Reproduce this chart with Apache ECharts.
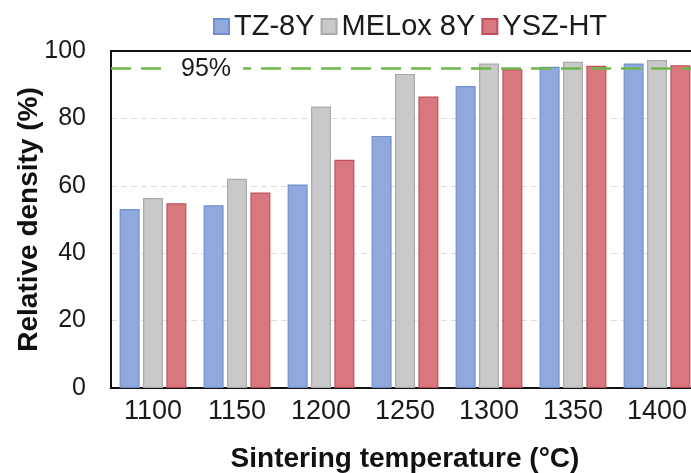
<!DOCTYPE html>
<html>
<head>
<meta charset="utf-8">
<script src="https://cdn.jsdelivr.net/npm/echarts@6/dist/echarts.min.js"></script>
<style>
  html, body { margin: 0; padding: 0; background: #fff; }
  #chart { width: 691px; height: 473px; }
</style>
</head>
<body>
<div id="chart"></div>
<script>
// Sintering temperatures (°C)
const temperatures = ['1100', '1150', '1200', '1250', '1300', '1350', '1400'];
// Relative density (%) per powder
const tz8y = [53.1, 54.2, 60.4, 74.8, 89.6, 95.3, 96.3];
const melox8y = [56.4, 62.1, 83.5, 93.2, 96.3, 96.8, 97.3];
const yszHt = [54.8, 58.0, 67.7, 86.5, 94.6, 95.6, 95.8];
// Reference density threshold
const threshold = 95;
const thresholdLabel = '95%';

const FONT = 'Liberation Sans, Arial, sans-serif';
const chart = echarts.init(document.getElementById('chart'));

function barSeries(name, data, fill, border) {
  return {
    name: name,
    type: 'bar',
    data: data,
    barWidth: 20,
    barGap: '17%',
    itemStyle: { color: fill, borderColor: border, borderWidth: 1.2 },
    emphasis: { disabled: true }
  };
}

const series = [
  barSeries('TZ-8Y', tz8y, '#8fa9dc', '#6f90d0'),
  barSeries('MELox 8Y', melox8y, '#c9c9c9', '#aaaaaa'),
  barSeries('YSZ-HT', yszHt, '#d8777e', '#c0505a')
];
series[0].markLine = {
  silent: true,
  symbol: 'none',
  label: { show: false },
  lineStyle: { color: '#6db74a', width: 2.5, type: [20, 10] },
  data: [{ yAxis: threshold }]
};

chart.setOption({
  animation: false,
  backgroundColor: '#fff',
  textStyle: { fontFamily: FONT },
  legend: {
    top: 7,
    left: 208,
    itemWidth: 15,
    itemHeight: 15,
    itemGap: 6,
    icon: 'rect',
    textStyle: { fontSize: 29, color: '#1a1a1a', fontFamily: FONT },
    data: ['TZ-8Y', 'MELox 8Y', 'YSZ-HT']
  },
  grid: {
    left: 111,
    width: 588,
    top: 51,
    bottom: 85,
    show: true,
    borderColor: '#111',
    borderWidth: 2,
    containLabel: false,
    outerBoundsMode: 'none'
  },
  xAxis: {
    type: 'category',
    data: temperatures,
    name: 'Sintering temperature (°C)',
    nameLocation: 'middle',
    nameGap: 57,
    nameTextStyle: { fontSize: 28, fontWeight: 'bold', color: '#111', fontFamily: FONT },
    axisLine: { lineStyle: { color: '#111', width: 2 } },
    axisTick: { show: false },
    axisLabel: { fontSize: 27, color: '#1a1a1a', margin: 10, fontFamily: FONT }
  },
  yAxis: {
    type: 'value',
    min: 0,
    max: 100,
    interval: 20,
    name: 'Relative density (%)',
    nameLocation: 'middle',
    nameGap: 68,
    nameMoveOverlap: false,
    nameTextStyle: { fontSize: 28, fontWeight: 'bold', color: '#111', fontFamily: FONT },
    axisLine: { show: true, lineStyle: { color: '#111', width: 2 } },
    axisTick: { show: false },
    axisLabel: { fontSize: 25, color: '#1a1a1a', margin: 25, fontFamily: FONT },
    splitLine: { showMaxLine: false, lineStyle: { color: '#dcdcdc', type: [6, 4], width: 1 } }
  },
  series: series
});

// Label for the threshold line, placed on the line near the first category
const labelPos = chart.convertToPixel({ gridIndex: 0 }, [0, threshold]);
chart.setOption({
  graphic: [{
    type: 'text',
    x: labelPos[0] + 53,
    y: labelPos[1] + 1,
    z: 10,
    style: {
      text: thresholdLabel,
      fontSize: 25,
      fontFamily: FONT,
      fill: '#1a1a1a',
      align: 'center',
      verticalAlign: 'middle',
      backgroundColor: '#fff',
      padding: [2, 12, 2, 12]
    }
  }]
});
</script>
</body>
</html>
